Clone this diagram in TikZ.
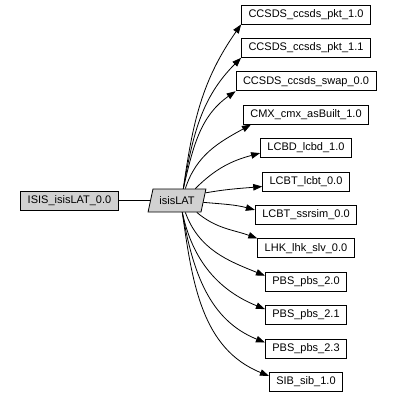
\documentclass[tikz,border=0pt]{standalone}
\usepackage{fontspec}
\setmainfont{Liberation Sans}
\usetikzlibrary{arrows.meta, shapes.geometric}

\begin{document}
\begin{tikzpicture}[x=1pt, y=1pt, font=\fontsize{11}{13}\selectfont,
  >={Triangle[length=9pt, width=6.5pt]},
  box/.style={draw, line width=0.8pt, minimum height=19pt, inner xsep=7pt, inner ysep=0pt},
  src/.style={box, fill=black!18},
  hub/.style={trapezium, trapezium left angle=66, trapezium right angle=114,
    trapezium stretches=true, draw, line width=0.8pt, fill=black!18,
    minimum width=58pt, minimum height=23pt, inner sep=0pt},
  dep/.style={->, line width=0.8pt}]
\useasboundingbox (0,0) rectangle (399,-397);
% sources
\node[src] (isis) at (69.5,-200.5) {ISIS\_isisLAT\_0.0};
\node[hub] (lat)  at (177,-200.5)  {isisLAT};
\draw[line width=0.8pt] (isis) -- (lat);
% packages used
\foreach \nm [count=\i] in {CCSDS\_ccsds\_pkt\_1.0, CCSDS\_ccsds\_pkt\_1.1,
    CCSDS\_ccsds\_swap\_0.0, CMX\_cmx\_asBuilt\_1.0, LCBD\_lcbd\_1.0,
    LCBT\_lcbt\_0.0, LCBT\_ssrsim\_0.0, LHK\_lhk\_slv\_0.0, PBS\_pbs\_2.0,
    PBS\_pbs\_2.1, PBS\_pbs\_2.3, SIB\_sib\_1.0}
  \node[box] (t\i) at (306,{-14.5-33.4*(\i-1)}) {\nm};
% edges
\draw[dep] (lat.62)  to[out=82, in=235] (t1.south west);
\draw[dep] (lat.62)  to[out=80, in=225] (t2.south west);
\draw[dep] (lat.62)  to[out=77, in=215] (t3.south west);
\draw[dep] (lat.55)  to[out=72, in=209] ([xshift=8pt]t4.south west);
\draw[dep] (lat.33)  to[out=45, in=195] ([yshift=-5pt]t5.west);
\draw[dep] (lat.15)  to[out=10, in=185] ([yshift=-5pt]t6.west);
\draw[dep] (lat.-4)  to[out=-5, in=165] ([yshift=5pt]t7.west);
\draw[dep] (lat.-31) to[out=-40, in=160] (t8.north west);
\draw[dep] (lat.-55) to[out=-70, in=158] ([yshift=6pt]t9.west);
\draw[dep] (lat.-66) to[out=-78, in=158] ([yshift=6pt]t10.west);
\draw[dep] (lat.-66) to[out=-80, in=158] ([yshift=6pt]t11.west);
\draw[dep] (lat.-66) to[out=-82, in=158] ([yshift=6pt]t12.west);
\end{tikzpicture}
\end{document}
